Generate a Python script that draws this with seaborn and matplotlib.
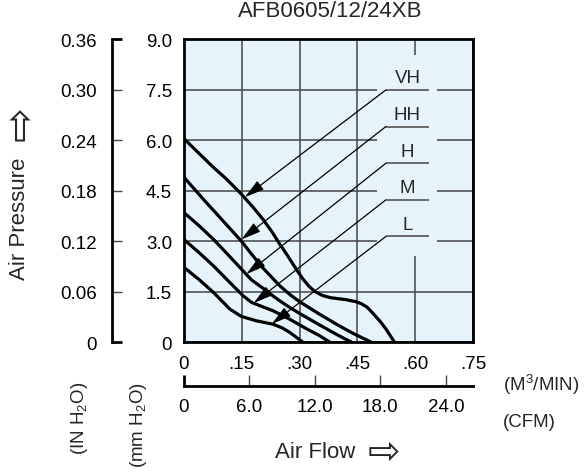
import pandas as pd
import seaborn as sns
import matplotlib.pyplot as plt
from matplotlib.patches import Rectangle

# =======================
# Curve data
# air flow in m3/min, static pressure in mm H2O
# =======================
speeds = ["VH", "HH", "H", "M", "L"]

vh_flow = [0, 0.04, 0.076, 0.11, 0.149, 0.18, 0.205, 0.23, 0.248, 0.27, 0.291, 0.309,
           0.325, 0.34, 0.36, 0.38, 0.40, 0.42, 0.446, 0.46, 0.475, 0.49, 0.51, 0.524, 0.546]
vh_pres = [6.05, 5.6, 5.2, 4.85, 4.4, 4.0, 3.65, 3.25, 2.92, 2.55, 2.17, 1.87,
           1.65, 1.5, 1.38, 1.32, 1.29, 1.26, 1.20, 1.14, 1.04, 0.86, 0.6, 0.39, 0.0]

hh_flow = [0, 0.05, 0.10, 0.149, 0.175, 0.205, 0.248, 0.274, 0.30, 0.35, 0.40, 0.44, 0.485]
hh_pres = [4.9, 4.25, 3.62, 3.0, 2.62, 2.2, 1.68, 1.42, 1.2, 0.84, 0.5, 0.25, 0.0]

h_flow = [0, 0.04, 0.076, 0.11, 0.149, 0.175, 0.205, 0.23, 0.248, 0.274, 0.30, 0.35, 0.40, 0.434]
h_pres = [3.85, 3.45, 3.06, 2.65, 2.17, 1.85, 1.6, 1.38, 1.23, 1.03, 0.85, 0.52, 0.2, 0.0]

m_flow = [0, 0.04, 0.076, 0.119, 0.153, 0.175, 0.197, 0.231, 0.274, 0.32, 0.35, 0.378]
m_pres = [3.05, 2.65, 2.27, 1.77, 1.38, 1.18, 1.08, 0.93, 0.68, 0.38, 0.2, 0.0]

l_flow = [0, 0.04, 0.076, 0.119, 0.149, 0.188, 0.231, 0.255, 0.274, 0.308]
l_pres = [2.22, 1.85, 1.48, 0.98, 0.76, 0.63, 0.53, 0.42, 0.29, 0.0]

# label callouts: where each arrow lands on its curve, and the label underline height
arrow_flow = [0.158, 0.149, 0.162, 0.181, 0.228]
arrow_pres = [4.31, 3.05, 2.02, 1.16, 0.54]
label_pres = [7.50, 6.41, 5.32, 4.23, 3.14]

# axes ticks
flow_ticks = [0, 0.15, 0.30, 0.45, 0.60, 0.75]
flow_labels = ["0", ".15", ".30", ".45", ".60", ".75"]
mm_ticks = [0, 1.5, 3.0, 4.5, 6.0, 7.5, 9.0]
mm_labels = ["0", "1.5", "3.0", "4.5", "6.0", "7.5", "9.0"]
in_ticks = [0, 0.06, 0.12, 0.18, 0.24, 0.30, 0.36]
in_labels = ["0", "0.06", "0.12", "0.18", "0.24", "0.30", "0.36"]
cfm_ticks = [0, 6.0, 12.0, 18.0, 24.0]
cfm_labels = ["0", "6.0", "12.0", "18.0", "24.0"]
CFM_PER_M3MIN = 35.31

flows = [vh_flow, hh_flow, h_flow, m_flow, l_flow]
pressures = [vh_pres, hh_pres, h_pres, m_pres, l_pres]
df = pd.concat(
    [pd.DataFrame({"speed": s, "flow": f, "pressure": p})
     for s, f, p in zip(speeds, flows, pressures)],
    ignore_index=True,
)

# =======================
# Style
# =======================
sns.set_theme(style="white")
plt.rcParams["font.family"] = ["Liberation Sans", "DejaVu Sans"]
plt.rcParams["mathtext.fontset"] = "custom"
plt.rcParams["mathtext.rm"] = "Liberation Sans"
plt.rcParams["mathtext.it"] = "Liberation Sans"

BG = "#e7f3fb"
GRID = "#454545"
TICK_FS = 13.5

fig = plt.figure(figsize=(5.88, 4.77), dpi=100)
rect = [0.3129, 0.2809, 0.4915, 0.6342]

# ==========================================================
# Main chart (mm H2O vs m3/min)
# ==========================================================
ax = fig.add_axes(rect, label="main")
ax.set_facecolor(BG)
sns.lineplot(data=df, x="flow", y="pressure", hue="speed", palette=["black"] * 5,
             estimator=None, sort=False, legend=False, lw=2.3, ax=ax, zorder=3)

ax.set_xlim(0, 0.75)
ax.set_ylim(0, 9.0)
ax.set_xticks(flow_ticks)
ax.set_xticklabels(flow_labels)
ax.set_yticks(mm_ticks)
ax.set_yticklabels(mm_labels)
ax.tick_params(axis="x", length=0, pad=9, labelsize=TICK_FS, colors="black")
ax.tick_params(axis="y", length=0, pad=8.5, labelsize=TICK_FS, colors="black")
ax.set_xlabel("")
ax.set_ylabel("")
ax.grid(True, color=GRID, lw=1.1)
ax.set_axisbelow(True)
for s in ax.spines.values():
    s.set_visible(True)
    s.set_color("black")
    s.set_linewidth(2.0)

# blank panel behind the speed labels
ax.add_patch(Rectangle((0.502, 2.55), 0.155, 6.0, fc=BG, ec="none", zorder=1))

for name, xa, ya, yl in zip(speeds, arrow_flow, arrow_pres, label_pres):
    ax.hlines(yl, 0.524, 0.636, color="#444444", lw=1.1, zorder=2)
    ax.text(0.58, yl + 0.36, name, ha="center", va="center", fontsize=TICK_FS, zorder=4)
    ax.annotate("", xy=(xa, ya), xytext=(0.524, yl),
                arrowprops=dict(arrowstyle="-|>,head_length=0.8,head_width=0.22",
                                color="black", lw=0.9, shrinkA=0, shrinkB=0,
                                mutation_scale=15),
                zorder=4)

# ==========================================================
# Outer pressure scale (IN H2O)
# ==========================================================
ax_in = fig.add_axes(rect, label="inh2o")
ax_in.patch.set_visible(False)
ax_in.set_ylim(0, 0.36)
ax_in.set_xticks([])
for s in ["top", "right", "bottom"]:
    ax_in.spines[s].set_visible(False)
ax_in.spines["left"].set_position(("outward", 52))
ax_in.spines["left"].set_color("black")
ax_in.spines["left"].set_linewidth(2.0)
ax_in.set_yticks(in_ticks)
ax_in.set_yticklabels(in_labels)
ax_in.tick_params(axis="y", direction="in", length=7.5, width=1.0, color=GRID,
                  pad=10.5, labelsize=TICK_FS, labelcolor="black", left=True)
yt = ax_in.yaxis.get_major_ticks()
for t in (yt[0], yt[-1]):
    t.tick1line.set_markeredgewidth(2.0)
    t.tick1line.set_markeredgecolor("black")

# ==========================================================
# Outer flow scale (CFM)
# ==========================================================
ax_cfm = fig.add_axes(rect, label="cfm")
ax_cfm.patch.set_visible(False)
ax_cfm.set_xlim(0, 0.75 * CFM_PER_M3MIN)
ax_cfm.set_yticks([])
for s in ["top", "right", "left"]:
    ax_cfm.spines[s].set_visible(False)
ax_cfm.spines["bottom"].set_position(("outward", 31.5))
ax_cfm.spines["bottom"].set_color("black")
ax_cfm.spines["bottom"].set_linewidth(2.0)
ax_cfm.set_xticks(cfm_ticks)
ax_cfm.set_xticklabels(cfm_labels)
ax_cfm.tick_params(axis="x", direction="in", length=8, width=1.0, color=GRID,
                   pad=9, labelsize=TICK_FS, labelcolor="black", bottom=True)
xt = ax_cfm.xaxis.get_major_ticks()
xt[0].tick1line.set_markeredgewidth(2.0)
xt[0].tick1line.set_markeredgecolor("black")

# ==========================================================
# Titles and unit labels
# ==========================================================
fig.text(0.561, 0.976, "AFB0605/12/24XB", ha="center", va="center", fontsize=16)
fig.text(0.034, 0.541, "Air Pressure", rotation=90, ha="center", va="center", fontsize=16)
fig.text(0.036, 0.740, "\u21e8", rotation=90, ha="center", va="center", fontsize=30,
         family="DejaVu Sans")
fig.text(0.536, 0.052, "Air Flow", ha="center", va="center", fontsize=16)
fig.text(0.653, 0.051, "\u21e8", ha="center", va="center", fontsize=28,
         family="DejaVu Sans")
fig.text(0.136, 0.124, r"(IN H$_2$O)", rotation=90, ha="center", va="center", fontsize=TICK_FS)
fig.text(0.235, 0.109, r"(mm H$_2$O)", rotation=90, ha="center", va="center", fontsize=TICK_FS)
fig.text(0.855, 0.193, r"(M$^3$/MIN)", ha="left", va="center", fontsize=TICK_FS)
fig.text(0.855, 0.115, "(CFM)", ha="left", va="center", fontsize=TICK_FS)

fig.savefig("out.png", dpi=100)
